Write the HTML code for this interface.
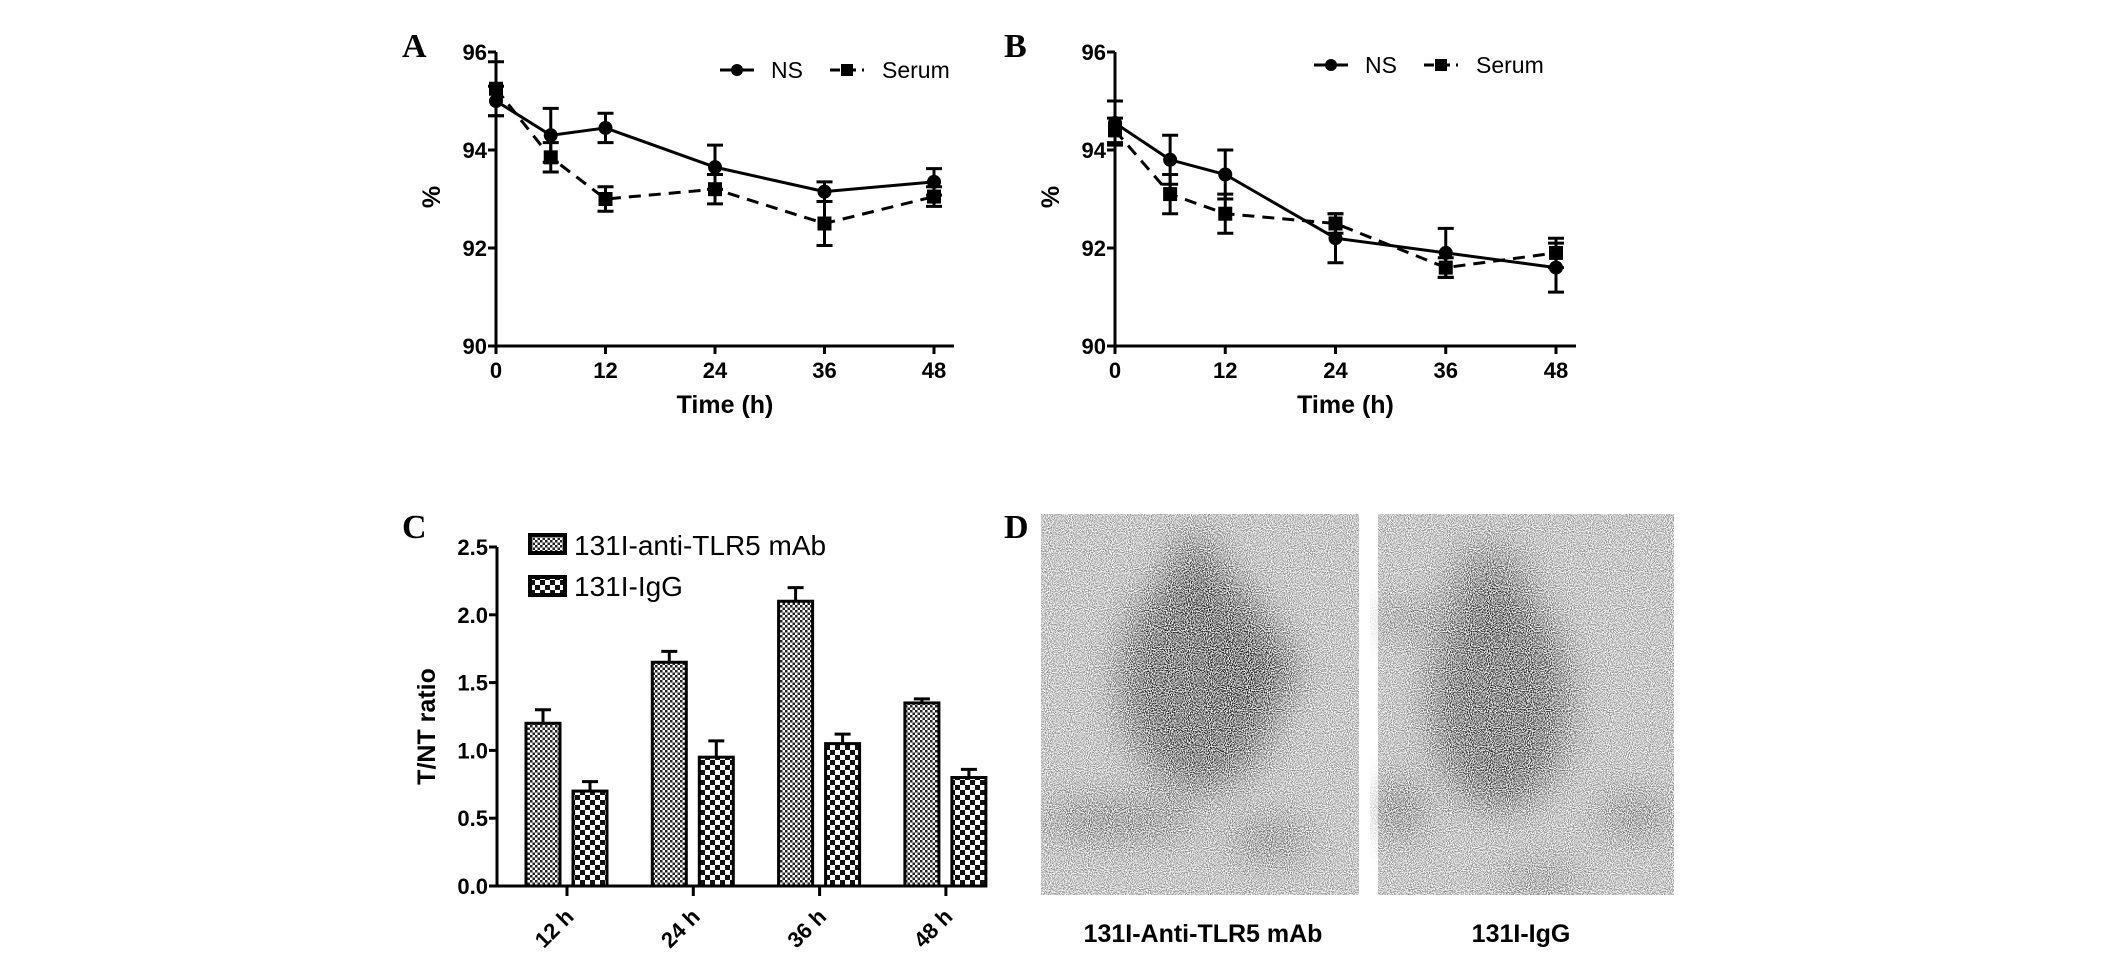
<!DOCTYPE html>
<html><head><meta charset="utf-8"><style>
html,body{margin:0;padding:0;background:#fff;overflow:hidden}
svg{display:block}
text{font-family:"Liberation Sans",Arial,sans-serif}
.tk{font-size:22px;font-weight:bold}
.ttl{font-size:25px;font-weight:bold}
.lg{font-size:23px}
.lgc{font-size:28px}
.pl{font-family:"Liberation Serif",serif;font-size:34px;font-weight:bold}
</style></head><body>
<svg id="fig" width="2126" height="971" viewBox="0 0 2126 971" xmlns="http://www.w3.org/2000/svg">
<defs>
<pattern id="pFine" width="5" height="5" patternUnits="userSpaceOnUse"><rect width="5" height="5" fill="#fff"/><rect width="2.5" height="2.5" fill="#222"/><rect x="2.5" y="2.5" width="2.5" height="2.5" fill="#222"/></pattern>
<pattern id="pCoarse" width="10" height="10" patternUnits="userSpaceOnUse"><rect width="10" height="10" fill="#fff"/><rect width="5" height="5" fill="#111"/><rect x="5" y="5" width="5" height="5" fill="#111"/></pattern>
<filter id="noise" x="0" y="0" width="100%" height="100%">
<feTurbulence type="fractalNoise" baseFrequency="0.95" numOctaves="1" seed="3" result="n"/>
<feColorMatrix in="n" type="matrix" values="0 0 0 0 1  0 0 0 0 1  0 0 0 0 1  0 0 0 -3.5 2.2" result="nm"/>
<feComposite in="SourceGraphic" in2="nm" operator="in"/>
</filter>
<filter id="blur"><feGaussianBlur stdDeviation="18"/></filter>
</defs>
<text class="pl" x="402" y="57">A</text>
<text class="pl" x="1004" y="57">B</text>
<text class="pl" x="402" y="538">C</text>
<text class="pl" x="1004" y="538">D</text>
<g id="panelA"></g>
<g id="panelB"></g>
<g id="panelC"></g>
<g id="panelD">
 <g filter="url(#noise)">
  <rect x="1041" y="514" width="318" height="381" fill="#888"/>
  <g filter="url(#blur)" fill="#000">
   <ellipse cx="1200" cy="680" rx="80" ry="110" opacity="0.9"/>
   <ellipse cx="1250" cy="670" rx="45" ry="45"/>
   <ellipse cx="1195" cy="580" rx="28" ry="45" opacity="0.85"/>
   <ellipse cx="1120" cy="820" rx="80" ry="20" opacity="0.55"/>
   <ellipse cx="1270" cy="840" rx="40" ry="20" opacity="0.55"/>
  </g>
 </g>
 <g filter="url(#noise)">
  <rect x="1378" y="514" width="296" height="381" fill="#888"/>
  <g filter="url(#blur)" fill="#000">
   <ellipse cx="1500" cy="700" rx="70" ry="110" opacity="0.85"/>
   <ellipse cx="1490" cy="590" rx="40" ry="45" opacity="0.65"/>
   <ellipse cx="1410" cy="620" rx="40" ry="12" opacity="0.55"/>
   <ellipse cx="1400" cy="810" rx="22" ry="30" opacity="0.65"/>
   <ellipse cx="1635" cy="815" rx="35" ry="20" opacity="0.55"/>
   <ellipse cx="1540" cy="880" rx="40" ry="15" opacity="0.45"/>
  </g>
 </g>
 <text class="ttl" x="1203" y="942" text-anchor="middle" font-size="24">131I-Anti-TLR5 mAb</text>
 <text class="ttl" x="1521" y="942" text-anchor="middle" font-size="24">131I-IgG</text>
</g>
<script>
// Panel A data
const timesA = [0, 6, 12, 24, 36, 48];
const nsA = [95.0, 94.3, 94.45, 93.65, 93.15, 93.35];
const nsAErr = [0.3, 0.55, 0.3, 0.45, 0.2, 0.27];
const serumA = [95.25, 93.85, 93.0, 93.2, 92.5, 93.05];
const serumAErr = [0.55, 0.3, 0.25, 0.3, 0.45, 0.2];
// Panel B data
const timesB = [0, 6, 12, 24, 36, 48];
const nsB = [94.55, 93.8, 93.5, 92.2, 91.9, 91.6];
const nsBErr = [0.45, 0.5, 0.5, 0.5, 0.5, 0.5];
const serumB = [94.4, 93.1, 92.7, 92.5, 91.6, 91.9];
const serumBErr = [0.25, 0.4, 0.4, 0.2, 0.2, 0.3];
const lineYTicks = [90, 92, 94, 96];
const lineXTicks = [0, 12, 24, 36, 48];
// Panel C data
const barCats = ['12 h', '24 h', '36 h', '48 h'];
const antiVals = [1.2, 1.65, 2.1, 1.35];
const antiErr = [0.1, 0.08, 0.1, 0.03];
const iggVals = [0.7, 0.95, 1.05, 0.8];
const iggErr = [0.07, 0.12, 0.07, 0.06];
const barYTicks = [0.0, 0.5, 1.0, 1.5, 2.0, 2.5];

const NS = 'http://www.w3.org/2000/svg';
function mk(parent, tag, attrs, txt) {
  const e = document.createElementNS(NS, tag);
  for (const k in attrs) e.setAttribute(k, attrs[k]);
  if (txt !== undefined) e.textContent = txt;
  parent.appendChild(e);
  return e;
}

function linePanel(gid, x0, x1, times, ns, nsE, se, seE, legX, ly) {
  const g = document.getElementById(gid);
  const y0 = 346, yTop = 52;
  const X = t => x0 + (t / 48) * (x1 - x0);
  const Y = v => y0 - (v - 90) / 6 * (y0 - yTop);
  let e;
  e = mk(g, 'line', {x1: x0, y1: yTop, x2: x0, y2: y0 + 8, stroke: '#000', 'stroke-width': 3});
  
  
  e = mk(g, 'line', {x1: x0 - 2, y1: y0, x2: x1 + 20, y2: y0, stroke: '#000', 'stroke-width': 3});
  
  
  lineYTicks.forEach(v => {
    mk(g, 'line', {x1: x0 - 8, y1: Y(v), x2: x0, y2: Y(v), stroke: '#000', 'stroke-width': 3});
    e = mk(g, 'text', {x: x0 - 9, y: Y(v) + 8, 'text-anchor': 'end', class: 'tk'}, String(v));
    
    
  });
  lineXTicks.forEach(t => {
    mk(g, 'line', {x1: X(t), y1: y0, x2: X(t), y2: y0 + 8, stroke: '#000', 'stroke-width': 3});
    e = mk(g, 'text', {x: X(t), y: y0 + 32, 'text-anchor': 'middle', class: 'tk'}, String(t));
    
    
  });
  e = mk(g, 'text', {x: (x0 + x1) / 2 + 10, y: 413, 'text-anchor': 'middle', class: 'ttl'}, 'Time (h)');
  
  
  e = mk(g, 'text', {x: 0, y: 0, 'text-anchor': 'middle', class: 'ttl', transform: `translate(${x0 - 56},${(y0 + yTop) / 2 - 2}) rotate(-90)`}, '%');
  
  
  function series(vals, errs, dash, square, name) {
    const pts = times.map((t, i) => X(t) + ',' + Y(vals[i])).join(' ');
    e = mk(g, 'polyline', {points: pts, fill: 'none', stroke: '#000', 'stroke-width': 3, 'stroke-dasharray': dash});
    
    
    times.forEach((t, i) => {
      const cx = X(t), ya = Y(vals[i] + errs[i]), yb = Y(vals[i] - errs[i]);
      mk(g, 'path', {d: `M${cx},${ya}V${yb}M${cx - 8},${ya}H${cx + 8}M${cx - 8},${yb}H${cx + 8}`, stroke: '#000', 'stroke-width': 3, fill: 'none'});
      if (square) e = mk(g, 'rect', {x: cx - 7, y: Y(vals[i]) - 7, width: 14, height: 14, fill: '#000'});
      else e = mk(g, 'circle', {cx: cx, cy: Y(vals[i]), r: 7, fill: '#000'});
      
      
    });
  }
  series(ns, nsE, 'none', false, 'ns');
  series(se, seE, '12,8', true, 'serum');
  mk(g, 'line', {x1: legX, y1: ly, x2: legX + 34, y2: ly, stroke: '#000', 'stroke-width': 3});
  mk(g, 'circle', {cx: legX + 17, cy: ly, r: 6, fill: '#000'});
  e = mk(g, 'text', {x: legX + 51, y: ly + 8, class: 'lg'}, 'NS');
  
  
  const sx = legX + 110;
  mk(g, 'line', {x1: sx, y1: ly, x2: sx + 34, y2: ly, stroke: '#000', 'stroke-width': 3, 'stroke-dasharray': '10,6'});
  mk(g, 'rect', {x: sx + 11, y: ly - 6, width: 12, height: 12, fill: '#000'});
  e = mk(g, 'text', {x: sx + 52, y: ly + 8, class: 'lg'}, 'Serum');
  
  
}
linePanel('panelA', 496, 934, timesA, nsA, nsAErr, serumA, serumAErr, 720, 70);
linePanel('panelB', 1115, 1556, timesB, nsB, nsBErr, serumB, serumBErr, 1314, 65);

(function () {
  const g = document.getElementById('panelC');
  const x0 = 497, x1 = 961, y0 = 886, yTop = 547;
  const Y = v => y0 - v / 2.5 * (y0 - yTop);
  const catX = [0, 1, 2, 3].map(i => 567 + i * 126.3);
  let e;
  e = mk(g, 'line', {x1: x0, y1: yTop, x2: x0, y2: y0, stroke: '#000', 'stroke-width': 3});
  
  
  e = mk(g, 'line', {x1: x0 - 2, y1: y0, x2: x1, y2: y0, stroke: '#000', 'stroke-width': 3});
  
  
  barYTicks.forEach(v => {
    mk(g, 'line', {x1: x0 - 8, y1: Y(v), x2: x0, y2: Y(v), stroke: '#000', 'stroke-width': 3});
    e = mk(g, 'text', {x: x0 - 9, y: Y(v) + 8, 'text-anchor': 'end', class: 'tk'}, v.toFixed(1));
    
    
  });
  e = mk(g, 'text', {x: 0, y: 0, 'text-anchor': 'middle', class: 'ttl', transform: `translate(${x0 - 62},${(y0 + yTop) / 2 + 10}) rotate(-90)`}, 'T/NT ratio');
  
  
  barCats.forEach((c, i) => {
    const cx = catX[i];
    mk(g, 'line', {x1: cx, y1: y0, x2: cx, y2: y0 + 10, stroke: '#000', 'stroke-width': 3});
    e = mk(g, 'text', {x: 0, y: 0, 'text-anchor': 'end', class: 'tk', transform: `translate(${cx + 8},${y0 + 32}) rotate(-45)`}, c);
    
    
    [[antiVals, antiErr, -41, 'url(#pFine)', 'bar-anti-tlr5'], [iggVals, iggErr, 6, 'url(#pCoarse)', 'bar-igg']].forEach(s => {
      const v = s[0][i], er = s[1][i], bx = cx + s[2];
      const bw = 34;
      mk(g, 'path', {d: `M${bx + bw / 2},${Y(v)}V${Y(v + er)}M${bx + bw / 2 - 8},${Y(v + er)}H${bx + bw / 2 + 8}`, stroke: '#000', 'stroke-width': 3});
      e = mk(g, 'rect', {x: bx, y: Y(v), width: bw, height: y0 - Y(v), fill: s[3], stroke: '#000', 'stroke-width': 3});
      
      
    });
  });
  mk(g, 'rect', {x: 530, y: 535, width: 35, height: 18, fill: 'url(#pFine)', stroke: '#000', 'stroke-width': 4});
  e = mk(g, 'text', {x: 574, y: 555, class: 'lgc'}, '131I-anti-TLR5 mAb');
  
  
  mk(g, 'rect', {x: 530, y: 577, width: 35, height: 18, fill: 'url(#pCoarse)', stroke: '#000', 'stroke-width': 4});
  e = mk(g, 'text', {x: 574, y: 596, class: 'lgc'}, '131I-IgG');
  
  
})();
</script>
</svg>
</body></html>
